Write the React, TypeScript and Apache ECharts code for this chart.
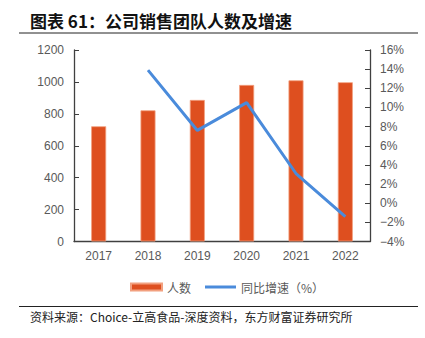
import React, { useEffect, useRef } from "react";
import * as echarts from "echarts";

const categories = ["2017", "2018", "2019", "2020", "2021", "2022"];
const headcount = [722, 822, 887, 981, 1010, 998];
const growth: (number | null)[] = [null, 13.9, 7.6, 10.5, 3.1, -1.4];

const titleText = "图表 61：公司销售团队人数及增速";
const sourceText = "资料来源：Choice-立高食品-深度资料，东方财富证券研究所";
const barName = "人数";
const lineName = "同比增速（%）";

export default function App() {
  const ref = useRef<HTMLDivElement>(null);
  useEffect(() => {
    if (!ref.current) return;
    const chart = echarts.init(ref.current, undefined, { renderer: "svg" });
    const labelColor = "#595959";
    const axisColor = "#404040";
    const font = "'Liberation Sans', Arial, sans-serif";
    chart.setOption({
      animation: false,
      backgroundColor: "#ffffff",
      grid: { left: 74, right: 55, top: 50, bottom: 96.5, containLabel: false },
      graphic: [
        {
          type: "text",
          left: 30,
          top: 12,
          style: {
            text: titleText,
            font: "bold 17px 'Noto Sans CJK SC', sans-serif",
            fill: "#111",
          },
        },
        {
          type: "line",
          shape: { x1: 19, y1: 33, x2: 418, y2: 33 },
          style: { stroke: "#222", lineWidth: 1 },
        },
        {
          type: "line",
          shape: { x1: 19, y1: 306.5, x2: 418, y2: 306.5 },
          style: { stroke: "#222", lineWidth: 1 },
        },
        {
          type: "text",
          left: 30,
          top: 310,
          style: {
            text: sourceText,
            font: "12px 'Noto Sans CJK SC', sans-serif",
            fill: "#222",
          },
        },
      ],
      legend: {
        left: 125,
        top: 276,
        itemWidth: 31,
        itemHeight: 7,
        itemGap: 14,
        symbolKeepAspect: true,
        textStyle: { color: labelColor, fontSize: 12, fontFamily: "'Noto Sans CJK SC', sans-serif" },
        data: [
          { name: barName, icon: "rect" },
          { name: lineName, icon: "path://M0,0 L31,0 L31,3 L0,3 Z" },
        ],
      },
      xAxis: {
        type: "category",
        data: categories,
        axisLine: { lineStyle: { color: axisColor, width: 1.3 } },
        axisTick: { inside: true, length: 5, lineStyle: { color: axisColor } },
        axisLabel: { color: labelColor, fontSize: 12, fontFamily: font, margin: 8 },
      },
      yAxis: [
        {
          type: "value",
          min: 0,
          max: 1200,
          interval: 200,
          splitLine: { show: false },
          axisLine: { show: true, lineStyle: { color: axisColor, width: 1.3 } },
          axisTick: { show: true, inside: true, length: 5, lineStyle: { color: axisColor } },
          axisLabel: {
            color: labelColor,
            fontSize: 12,
            fontFamily: font,
            margin: 10,
            formatter: (v: number) => String(v),
          },
        },
        {
          type: "value",
          min: -4,
          max: 16,
          interval: 2,
          splitLine: { show: false },
          axisLine: { show: true, lineStyle: { color: axisColor, width: 1.3 } },
          axisTick: { show: true, inside: true, length: 5, lineStyle: { color: axisColor } },
          axisLabel: {
            color: labelColor,
            fontSize: 12,
            fontFamily: font,
            margin: 10,
            formatter: (v: number) => (v < 0 ? "\u2212" + Math.abs(v) : String(v)) + "%",
          },
        },
      ],
      series: [
        {
          name: barName,
          type: "bar",
          data: headcount,
          barWidth: 15,
          itemStyle: { color: "#DE4F1F", borderColor: "#F2A07F", borderWidth: 0.8 },
        },
        {
          name: lineName,
          type: "line",
          yAxisIndex: 1,
          data: growth,
          symbol: "none",
          lineStyle: { color: "#4A8BDB", width: 3 },
          itemStyle: { color: "#4A8BDB" },
        },
      ],
    });
    return () => chart.dispose();
  }, []);
  return (
    <div
      ref={ref}
      style={{ position: "absolute", left: 0, top: 0, width: 425, height: 338 }}
    />
  );
}
